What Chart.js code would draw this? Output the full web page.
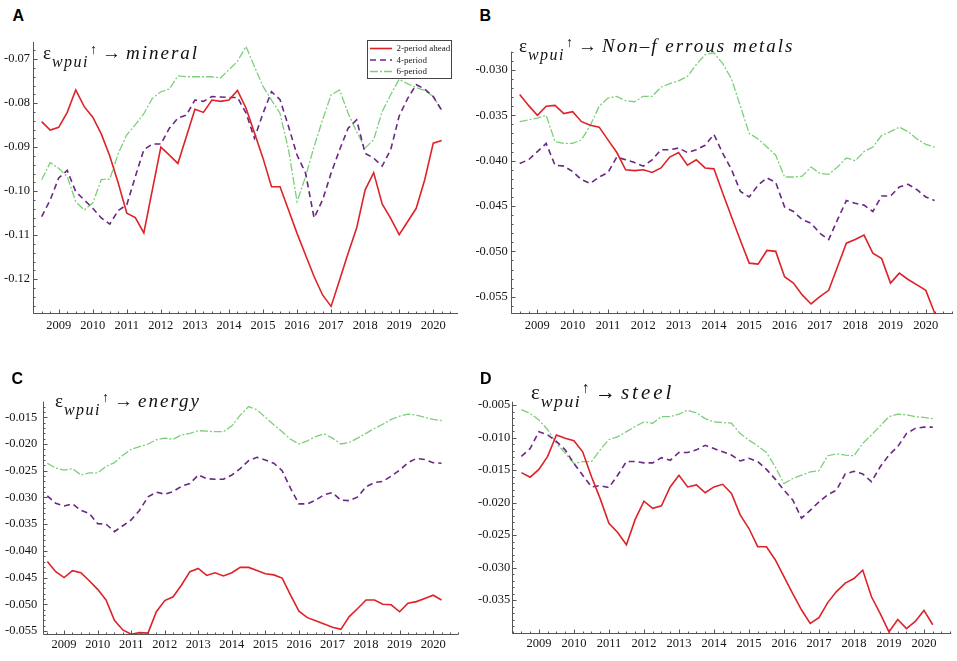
<!DOCTYPE html>
<html>
<head>
<meta charset="utf-8">
<script src="https://cdn.jsdelivr.net/npm/chart.js@4.4.0/dist/chart.umd.min.js"></script>
<style>
  html, body { margin: 0; padding: 0; background: #fff; }
  #page { position: relative; width: 957px; height: 661px; overflow: hidden; }
  canvas { position: absolute; }
  .tag { position: absolute; font-family: 'Liberation Sans', Arial, sans-serif; font-weight: bold; font-size: 16px; line-height: 1; color: #000; }
  .ttl { position: absolute; font-family: 'Liberation Serif', 'Times New Roman', serif; font-size: 19px; line-height: 1; white-space: nowrap; color: #111; z-index: 2; }
  .ttl .sub { font-style: italic; font-size: 0.84em; letter-spacing: 1.5px; position: relative; top: 0.47em; margin-left: 1px; }
  .ttl .up { font-size: 0.74em; position: relative; top: -0.37em; margin-left: 1px; }
  .ttl .ar { margin-left: 5px; }
  .ttl .w { font-style: italic; letter-spacing: 2px; margin-left: 5px; }
</style>
</head>
<body>
<div id="page">
  <canvas id="chartA"></canvas>
  <canvas id="chartB"></canvas>
  <canvas id="chartC"></canvas>
  <canvas id="chartD"></canvas>

  <div class="tag" style="left:12.5px;top:8px">A</div>
  <div class="tag" style="left:479.5px;top:8px">B</div>
  <div class="tag" style="left:11.5px;top:371px">C</div>
  <div class="tag" style="left:480px;top:371px">D</div>

  <div class="ttl" style="left:43px;top:43px"><span>ε</span><span class="sub">wpui</span><span class="up">↑</span><span class="ar">→</span><span class="w">mineral</span></div>
  <div class="ttl" style="left:519px;top:36px"><span>ε</span><span class="sub">wpui</span><span class="up">↑</span><span class="ar">→</span><span class="w">Non–f errous metals</span></div>
  <div class="ttl" style="left:55px;top:391px"><span>ε</span><span class="sub">wpui</span><span class="up">↑</span><span class="ar">→</span><span class="w">energy</span></div>
  <div class="ttl" style="left:531px;top:382px;font-size:21px"><span>ε</span><span class="sub">wpui</span><span class="up">↑</span><span class="ar">→</span><span class="w" style="letter-spacing:3px">steel</span></div>
</div>

<script>
// quarterly observations, 2008Q3 .. 2020Q2
const quarters = [
    '2008Q3', '2008Q4',
    '2009Q1', '2009Q2', '2009Q3', '2009Q4', '2010Q1', '2010Q2', '2010Q3', '2010Q4',
    '2011Q1', '2011Q2', '2011Q3', '2011Q4', '2012Q1', '2012Q2', '2012Q3', '2012Q4',
    '2013Q1', '2013Q2', '2013Q3', '2013Q4', '2014Q1', '2014Q2', '2014Q3', '2014Q4',
    '2015Q1', '2015Q2', '2015Q3', '2015Q4', '2016Q1', '2016Q2', '2016Q3', '2016Q4',
    '2017Q1', '2017Q2', '2017Q3', '2017Q4', '2018Q1', '2018Q2', '2018Q3', '2018Q4',
    '2019Q1', '2019Q2', '2019Q3', '2019Q4', '2020Q1', '2020Q2'
];
const years = [2009, 2010, 2011, 2012, 2013, 2014, 2015, 2016, 2017, 2018, 2019, 2020];
const seriesNames = ['2-period ahead', '4-period', '6-period'];

// A: mineral
const mineralTicks = [-0.12, -0.11, -0.10, -0.09, -0.08, -0.07];
const mineral2 = [-0.0842, -0.0861, -0.0855, -0.0821, -0.0770, -0.0808, -0.0832, -0.0870, -0.0920, -0.0982,
    -0.1050, -0.1060, -0.1095, -0.0997, -0.0900, -0.0918, -0.0937, -0.0876, -0.0814, -0.0821,
    -0.0793, -0.0796, -0.0793, -0.0771, -0.0811, -0.0868, -0.0925, -0.0990, -0.0990, -0.1043,
    -0.1096, -0.1145, -0.1194, -0.1236, -0.1262, -0.1202, -0.1141, -0.1084, -0.0997, -0.0958,
    -0.1029, -0.1062, -0.1099, -0.1069, -0.1039, -0.0974, -0.0891, -0.0885];
const mineral4 = [-0.1058, -0.1020, -0.0970, -0.0953, -0.1001, -0.1020, -0.1039, -0.1061, -0.1075, -0.1044,
    -0.1031, -0.0967, -0.0906, -0.0893, -0.0893, -0.0857, -0.0834, -0.0827, -0.0793, -0.0796,
    -0.0785, -0.0786, -0.0787, -0.0787, -0.0822, -0.0880, -0.0823, -0.0774, -0.0792, -0.0853,
    -0.0918, -0.0959, -0.1061, -0.1020, -0.0959, -0.0906, -0.0857, -0.0838, -0.0914, -0.0925,
    -0.0943, -0.0906, -0.0829, -0.0789, -0.0758, -0.0768, -0.0785, -0.0817];
const mineral6 = [-0.0974, -0.0935, -0.0948, -0.0967, -0.1024, -0.1043, -0.1027, -0.0974, -0.0973, -0.0914,
    -0.0872, -0.0849, -0.0824, -0.0789, -0.0774, -0.0768, -0.0738, -0.0740, -0.0740, -0.0740,
    -0.0740, -0.0743, -0.0724, -0.0705, -0.0671, -0.0717, -0.0762, -0.0793, -0.0823, -0.0906,
    -0.1024, -0.0967, -0.0899, -0.0838, -0.0781, -0.0770, -0.0823, -0.0865, -0.0902, -0.0883,
    -0.0819, -0.0781, -0.0746, -0.0756, -0.0765, -0.0771, -0.0785, -0.0815];

// B: non-ferrous metals
const metalsTicks = [-0.055, -0.050, -0.045, -0.040, -0.035, -0.030];
const metals2 = [-0.0327, -0.0339, -0.0350, -0.0340, -0.0339, -0.0348, -0.0346, -0.0357, -0.0361, -0.0363,
    -0.0377, -0.0391, -0.0410, -0.0411, -0.0410, -0.0413, -0.0408, -0.0396, -0.0391, -0.0405,
    -0.0399, -0.0408, -0.0409, -0.0436, -0.0462, -0.0488, -0.0513, -0.0514, -0.0499, -0.0500,
    -0.0528, -0.0535, -0.0548, -0.0558, -0.0550, -0.0543, -0.0517, -0.0491, -0.0487, -0.0482,
    -0.0502, -0.0508, -0.0535, -0.0524, -0.0531, -0.0537, -0.0543, -0.0568];
const metals4 = [-0.0403, -0.0399, -0.0390, -0.0381, -0.0405, -0.0406, -0.0412, -0.0421, -0.0425, -0.0418,
    -0.0413, -0.0396, -0.0399, -0.0402, -0.0406, -0.0399, -0.0388, -0.0388, -0.0386, -0.0391,
    -0.0388, -0.0383, -0.0371, -0.0392, -0.0410, -0.0434, -0.0440, -0.0427, -0.0419, -0.0424,
    -0.0451, -0.0456, -0.0465, -0.0469, -0.0480, -0.0487, -0.0465, -0.0444, -0.0447, -0.0449,
    -0.0456, -0.0439, -0.0439, -0.0429, -0.0426, -0.0432, -0.0440, -0.0444];
const metals6 = [-0.0357, -0.0355, -0.0353, -0.0350, -0.0379, -0.0381, -0.0381, -0.0377, -0.0361, -0.0340,
    -0.0331, -0.0329, -0.0334, -0.0335, -0.0329, -0.0329, -0.0319, -0.0315, -0.0312, -0.0307,
    -0.0294, -0.0283, -0.0281, -0.0293, -0.0310, -0.0340, -0.0370, -0.0376, -0.0385, -0.0394,
    -0.0418, -0.0418, -0.0417, -0.0407, -0.0414, -0.0415, -0.0407, -0.0397, -0.0400, -0.0390,
    -0.0385, -0.0372, -0.0368, -0.0363, -0.0368, -0.0376, -0.0382, -0.0385];

// C: energy
const energyTicks = [-0.055, -0.050, -0.045, -0.040, -0.035, -0.030, -0.025, -0.020, -0.015];
const energy2 = [-0.0420, -0.0439, -0.0450, -0.0437, -0.0441, -0.0456, -0.0472, -0.0492, -0.0530, -0.0548,
    -0.0556, -0.0553, -0.0554, -0.0514, -0.0493, -0.0486, -0.0464, -0.0439, -0.0433, -0.0446,
    -0.0441, -0.0447, -0.0441, -0.0431, -0.0431, -0.0437, -0.0443, -0.0445, -0.0451, -0.0483,
    -0.0513, -0.0525, -0.0531, -0.0537, -0.0543, -0.0547, -0.0523, -0.0508, -0.0492, -0.0492,
    -0.0500, -0.0501, -0.0514, -0.0498, -0.0495, -0.0489, -0.0483, -0.0492];
const energy4 = [-0.0297, -0.0311, -0.0316, -0.0312, -0.0324, -0.0330, -0.0349, -0.0350, -0.0364, -0.0353,
    -0.0342, -0.0324, -0.0299, -0.0290, -0.0294, -0.0289, -0.0279, -0.0274, -0.0258, -0.0265,
    -0.0266, -0.0266, -0.0258, -0.0246, -0.0231, -0.0225, -0.0230, -0.0236, -0.0250, -0.0283,
    -0.0312, -0.0312, -0.0305, -0.0295, -0.0291, -0.0305, -0.0306, -0.0299, -0.0280, -0.0272,
    -0.0270, -0.0260, -0.0249, -0.0235, -0.0227, -0.0229, -0.0235, -0.0236];
const energy6 = [-0.0236, -0.0245, -0.0249, -0.0246, -0.0258, -0.0254, -0.0254, -0.0242, -0.0235, -0.0221,
    -0.0210, -0.0205, -0.0200, -0.0192, -0.0189, -0.0191, -0.0183, -0.0180, -0.0175, -0.0176,
    -0.0177, -0.0177, -0.0166, -0.0146, -0.0130, -0.0136, -0.0150, -0.0164, -0.0177, -0.0191,
    -0.0200, -0.0194, -0.0186, -0.0181, -0.0189, -0.0200, -0.0197, -0.0189, -0.0180, -0.0171,
    -0.0163, -0.0154, -0.0148, -0.0144, -0.0146, -0.0150, -0.0154, -0.0156];

// D: steel
const steelTicks = [-0.035, -0.030, -0.025, -0.020, -0.015, -0.010, -0.005];
const steel2 = [-0.0154, -0.0161, -0.0149, -0.0129, -0.0096, -0.0101, -0.0105, -0.0122, -0.0160, -0.0194,
    -0.0232, -0.0246, -0.0265, -0.0226, -0.0198, -0.0209, -0.0205, -0.0176, -0.0158, -0.0176,
    -0.0173, -0.0185, -0.0176, -0.0172, -0.0186, -0.0219, -0.0240, -0.0268, -0.0268, -0.0288,
    -0.0314, -0.0340, -0.0365, -0.0386, -0.0377, -0.0354, -0.0337, -0.0324, -0.0317, -0.0304,
    -0.0345, -0.0371, -0.0399, -0.0380, -0.0394, -0.0383, -0.0366, -0.0388];
const steel4 = [-0.0129, -0.0117, -0.0091, -0.0096, -0.0106, -0.0119, -0.0140, -0.0158, -0.0176, -0.0174,
    -0.0177, -0.0158, -0.0137, -0.0137, -0.0139, -0.0139, -0.0131, -0.0135, -0.0123, -0.0123,
    -0.0119, -0.0112, -0.0117, -0.0122, -0.0127, -0.0136, -0.0132, -0.0137, -0.0149, -0.0164,
    -0.0181, -0.0196, -0.0224, -0.0212, -0.0199, -0.0188, -0.0181, -0.0156, -0.0152, -0.0156,
    -0.0168, -0.0145, -0.0127, -0.0114, -0.0094, -0.0086, -0.0084, -0.0084];
const steel6 = [-0.0057, -0.0063, -0.0073, -0.0088, -0.0109, -0.0124, -0.0140, -0.0137, -0.0137, -0.0119,
    -0.0103, -0.0099, -0.0091, -0.0083, -0.0076, -0.0078, -0.0068, -0.0068, -0.0064, -0.0058,
    -0.0062, -0.0071, -0.0076, -0.0077, -0.0078, -0.0094, -0.0104, -0.0113, -0.0123, -0.0145,
    -0.0171, -0.0163, -0.0158, -0.0153, -0.0151, -0.0128, -0.0125, -0.0127, -0.0128, -0.0109,
    -0.0096, -0.0082, -0.0068, -0.0064, -0.0065, -0.0068, -0.0069, -0.0071];

const RED = '#de2228';
const PURPLE = '#6a2784';
const GREEN = '#7ccf7a';
const tickFont = { family: '"Liberation Serif", "Times New Roman", serif', size: 12.5 };

function quarterToYear(q) {
    return parseInt(q.slice(0, 4), 10) + (parseInt(q.slice(5), 10) - 1) / 4;
}

// Mathematica-like frame: left + bottom axis, inward major/minor ticks
const axesPlugin = {
    id: 'mmaAxes',
    afterDraw(chart, args, opts) {
        const ctx = chart.ctx;
        const xs = chart.scales.x, ys = chart.scales.y;
        const a = chart.chartArea;
        const L = Math.round(a.left) + 0.5, B = Math.round(a.bottom) + 0.5;
        ctx.save();
        ctx.strokeStyle = '#555';
        ctx.lineWidth = 1;
        ctx.beginPath();
        ctx.moveTo(L, a.top);
        ctx.lineTo(L, B);
        ctx.lineTo(a.right, B);
        for (let q = Math.ceil(xs.min * 4); q <= xs.max * 4; q++) {
            const px = Math.round(xs.getPixelForValue(q / 4)) + 0.5;
            const len = q % 4 === 0 ? 4 : 2;
            ctx.moveTo(px, B);
            ctx.lineTo(px, B - len);
        }
        const step = opts.minor;
        for (let k = Math.ceil(ys.min / step - 1e-6); k <= Math.floor(ys.max / step + 1e-6); k++) {
            const py = Math.round(ys.getPixelForValue(k * step)) + 0.5;
            const len = k % 5 === 0 ? 4 : 2;
            ctx.moveTo(L, py);
            ctx.lineTo(L + len, py);
        }
        ctx.stroke();
        ctx.restore();
    }
};

// framed legend in the upper right of panel A
const boxLegend = {
    id: 'boxLegend',
    afterDraw(chart, args, opts) {
        if (!opts.show) return;
        const ctx = chart.ctx, a = chart.chartArea;
        const w = 84, h = 38;
        const x0 = Math.round(a.right - 7 - w), y0 = Math.round(a.top - 2);
        ctx.save();
        ctx.fillStyle = '#fff';
        ctx.fillRect(x0, y0, w, h);
        ctx.strokeStyle = '#444';
        ctx.lineWidth = 1;
        ctx.strokeRect(x0 + 0.5, y0 + 0.5, w, h);
        ctx.font = '9px "Liberation Serif", serif';
        ctx.textBaseline = 'middle';
        chart.data.datasets.forEach((ds, i) => {
            const yy = y0 + 8.5 + i * 11.5;
            ctx.strokeStyle = ds.borderColor;
            ctx.lineWidth = ds.borderWidth;
            ctx.setLineDash(ds.borderDash || []);
            ctx.beginPath();
            ctx.moveTo(x0 + 3, yy);
            ctx.lineTo(x0 + 25, yy);
            ctx.stroke();
            ctx.setLineDash([]);
            ctx.fillStyle = '#222';
            ctx.fillText(ds.label, x0 + 29.5, yy + 0.5);
        });
        ctx.restore();
    }
};

function makePanel(id, cfg) {
    const canvas = document.getElementById(id);
    canvas.width = cfg.box[2];
    canvas.height = cfg.box[3];
    canvas.style.left = cfg.box[0] + 'px';
    canvas.style.top = cfg.box[1] + 'px';

    const toPoints = vals => vals.map((v, i) => ({ x: quarterToYear(quarters[i]), y: v }));

    return new Chart(canvas.getContext('2d'), {
        type: 'line',
        data: {
            datasets: [
                { label: seriesNames[0], data: toPoints(cfg.series[0]), borderColor: RED, borderWidth: 1.6 },
                { label: seriesNames[1], data: toPoints(cfg.series[1]), borderColor: PURPLE, borderWidth: 1.6, borderDash: [6, 4] },
                { label: seriesNames[2], data: toPoints(cfg.series[2]), borderColor: GREEN, borderWidth: 1.3, borderDash: [8, 2, 2, 2] }
            ]
        },
        options: {
            responsive: false,
            animation: false,
            events: [],
            elements: { point: { radius: 0 }, line: { tension: 0, fill: false } },
            layout: { padding: { top: cfg.pad[0], right: cfg.pad[1], bottom: 0, left: 0 } },
            scales: {
                x: {
                    type: 'linear',
                    min: cfg.xRange[0],
                    max: cfg.xRange[1],
                    afterFit: s => { s.height = cfg.axisSize[1]; },
                    afterBuildTicks: s => { s.ticks = years.map(v => ({ value: v })); },
                    grid: { display: false, drawTicks: false },
                    border: { display: false },
                    ticks: {
                        autoSkip: false, maxRotation: 0, padding: cfg.xLabelPad,
                        color: '#151515', font: tickFont,
                        callback: v => String(v)
                    }
                },
                y: {
                    type: 'linear',
                    min: cfg.yRange[0],
                    max: cfg.yRange[1],
                    afterFit: s => { s.width = cfg.axisSize[0]; },
                    afterBuildTicks: s => { s.ticks = cfg.yTicks.map(v => ({ value: v })); },
                    grid: { display: false, drawTicks: false },
                    border: { display: false },
                    ticks: {
                        padding: cfg.yLabelPad,
                        color: '#151515', font: tickFont,
                        callback: v => v.toFixed(cfg.digits)
                    }
                }
            },
            plugins: {
                legend: { display: false },
                tooltip: { enabled: false },
                mmaAxes: { minor: cfg.minor },
                boxLegend: { show: !!cfg.legend }
            }
        },
        plugins: [axesPlugin, boxLegend]
    });
}

makePanel('chartA', {
    box: [0, 30, 478, 300], pad: [12, 20], axisSize: [33, 17],
    xRange: [2008.245, 2020.727], yRange: [-0.1277, -0.0661],
    yTicks: mineralTicks, digits: 2, minor: 0.002, xLabelPad: 5, yLabelPad: 3,
    series: [mineral2, mineral4, mineral6], legend: true
});
makePanel('chartB', {
    box: [474, 30, 483, 300], pad: [21.7, 4], axisSize: [36.7, 16.7],
    xRange: [2008.245, 2020.77], yRange: [-0.05683, -0.02798],
    yTicks: metalsTicks, digits: 3, minor: 0.001, xLabelPad: 5, yLabelPad: 3,
    series: [metals2, metals4, metals6]
});
makePanel('chartC', {
    box: [0, 380, 478, 281], pad: [21.7, 19.7], axisSize: [43.3, 26.7],
    xRange: [2008.38, 2020.75], yRange: [-0.05562, -0.01208],
    yTicks: energyTicks, digits: 3, minor: 0.001, xLabelPad: 3, yLabelPad: 6,
    series: [energy2, energy4, energy6]
});
makePanel('chartD', {
    box: [474, 380, 483, 281], pad: [21.7, 5.7], axisSize: [38.3, 27.7],
    xRange: [2008.24, 2020.78], yRange: [-0.04012, -0.00449],
    yTicks: steelTicks, digits: 3, minor: 0.001, xLabelPad: 3, yLabelPad: 2,
    series: [steel2, steel4, steel6]
});
</script>
</body>
</html>
